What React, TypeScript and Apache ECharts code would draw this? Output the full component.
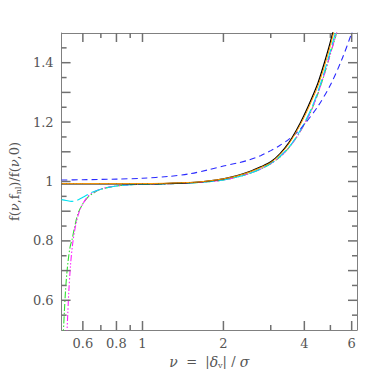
import React, { useEffect, useRef } from "react";
import * as echarts from "echarts";

const X_MIN = 0.5;
const X_MAX = 6.28;
const Y_MIN = 0.5;
const Y_MAX = 1.5;

const xMajorTicks = [0.6, 0.8, 1, 2, 4, 6];
const xMinorTicks = [0.7, 0.9, 3, 5];
const yMajorTicks = [0.6, 0.7, 0.8, 0.9, 1.0, 1.1, 1.2, 1.3, 1.4];
const yMinorTicks = [0.55, 0.65, 0.75, 0.85, 0.95, 1.05, 1.15, 1.25, 1.35, 1.45];
const yLabelTicks = [0.6, 0.8, 1, 1.2, 1.4];

const blackNu = [0.5, 0.6, 0.8, 1, 1.2, 1.4, 1.6, 1.8, 2, 2.25, 2.5, 2.75, 3, 3.25, 3.5, 3.75, 4, 4.25, 4.5, 4.75, 5, 5.25, 5.5];
const blackF = [0.992, 0.992, 0.992, 0.992, 0.993, 0.995, 0.998, 1.003, 1.009, 1.02, 1.033, 1.049, 1.066, 1.094, 1.13, 1.175, 1.225, 1.278, 1.333, 1.4, 1.47, 1.55, 1.64];

const orangeNu = [0.5, 0.6, 0.8, 1, 1.2, 1.4, 1.6, 1.8, 2, 2.25, 2.5, 2.75, 3, 3.25, 3.5, 3.75, 4, 4.25, 4.5, 4.75, 5, 5.25, 5.5];
const orangeF = [0.993, 0.993, 0.993, 0.993, 0.994, 0.996, 0.998, 1.003, 1.009, 1.019, 1.032, 1.047, 1.064, 1.091, 1.126, 1.17, 1.218, 1.27, 1.323, 1.388, 1.458, 1.535, 1.62];

const blueNu = [0.5, 0.6, 0.8, 1, 1.25, 1.5, 1.75, 2, 2.25, 2.5, 2.75, 3, 3.25, 3.5, 3.75, 4, 4.5, 5, 5.5, 6, 6.3];
const blueF = [1.005, 1.006, 1.008, 1.011, 1.017, 1.026, 1.039, 1.052, 1.062, 1.073, 1.087, 1.104, 1.122, 1.142, 1.165, 1.192, 1.254, 1.325, 1.408, 1.5, 1.56];

const cyanNu = [0.5, 0.52, 0.545, 0.57, 0.6, 0.646, 0.7, 0.8, 1, 1.2, 1.5, 1.75, 2, 2.25, 2.5, 2.75, 3, 3.25, 3.5, 3.75, 4, 4.25, 4.5, 4.75, 5, 5.25, 5.5];
const cyanF = [0.939, 0.936, 0.933, 0.936, 0.947, 0.963, 0.974, 0.985, 0.991, 0.992, 0.995, 0.999, 1.005, 1.015, 1.027, 1.042, 1.061, 1.085, 1.115, 1.153, 1.197, 1.246, 1.305, 1.37, 1.44, 1.51, 1.59];

const greenNu = [0.507, 0.512, 0.517, 0.523, 0.53, 0.538, 0.548, 0.56, 0.577, 0.6, 0.628, 0.66, 0.7, 0.8, 1, 1.2, 1.5, 1.75, 2, 2.25, 2.5, 2.75, 3, 3.25, 3.5, 3.75, 4, 4.25, 4.5, 4.75, 5, 5.25, 5.5];
const greenF = [0.48, 0.56, 0.63, 0.69, 0.74, 0.78, 0.808, 0.85, 0.895, 0.925, 0.948, 0.962, 0.974, 0.985, 0.991, 0.992, 0.995, 0.999, 1.005, 1.015, 1.027, 1.042, 1.06, 1.083, 1.113, 1.15, 1.193, 1.24, 1.298, 1.362, 1.43, 1.495, 1.57];

const magentaNu = [0.523, 0.527, 0.532, 0.54, 0.548, 0.558, 0.57, 0.585, 0.6, 0.62, 0.646, 0.7, 0.8, 1, 1.2, 1.5, 1.75, 2, 2.25, 2.5, 2.75, 3, 3.25, 3.5, 3.75, 4, 4.25, 4.5, 4.75, 5, 5.25, 5.5];
const magentaF = [0.48, 0.55, 0.63, 0.72, 0.78, 0.83, 0.87, 0.905, 0.925, 0.945, 0.96, 0.975, 0.985, 0.991, 0.992, 0.995, 0.999, 1.005, 1.015, 1.027, 1.042, 1.06, 1.083, 1.113, 1.15, 1.193, 1.24, 1.298, 1.362, 1.43, 1.495, 1.57];

const L = (v: number) => Math.log10(v);
const toData = (nu: number[], f: number[]) => nu.map((n, i) => [L(n), f[i]]);

const AXIS_COLOR = "#808080";
const TICK_COLOR = "#707070";
const TEXT_COLOR = "#555";
const FONT = "DejaVu Serif";
const MAJOR_LEN = 9;
const MINOR_LEN = 5;

export default function App() {
  const ref = useRef<HTMLDivElement>(null);
  useEffect(() => {
    if (!ref.current) return;
    const chart = echarts.init(ref.current, null, { renderer: "svg" });
    const fmtX = (v: number) => String(Math.round(Math.pow(10, v) * 10) / 10);
    const fmtY = (v: number) => String(Math.round(v * 10) / 10);
    const labelStyle = { fontFamily: FONT, fontSize: 13, color: TEXT_COLOR };

    const mkX = (pos: "bottom" | "top", labels: boolean) => ({
      type: "value" as const,
      min: L(X_MIN),
      max: L(X_MAX),
      position: pos,
      splitLine: { show: false },
      axisLine: { show: true, onZero: false, lineStyle: { color: AXIS_COLOR, width: 1 } },
      axisTick: { show: false },
      axisLabel: labels
        ? { show: true, customValues: xMajorTicks.map(L), formatter: fmtX, margin: 7, ...labelStyle }
        : { show: false },
    });
    const xName = {
      name: "{g|ν}  =  |{g|δ}{sub|v}| / {g|σ}",
      nameLocation: "middle" as const,
      nameGap: 24,
      nameTextStyle: {
        fontFamily: FONT,
        fontSize: 13,
        color: TEXT_COLOR,
        rich: {
          g: { fontFamily: FONT, fontSize: 14, fontStyle: "italic", color: TEXT_COLOR },
          sub: { fontFamily: FONT, fontSize: 8, color: TEXT_COLOR, padding: [7, 0, 0, 0] },
        },
      },
    };
    const mkY = (pos: "left" | "right", labels: boolean) => ({
      type: "value" as const,
      min: Y_MIN,
      max: Y_MAX,
      interval: 0.1,
      position: pos,
      splitLine: { show: false },
      axisLine: { show: true, onZero: false, lineStyle: { color: AXIS_COLOR, width: 1 } },
      axisTick: { show: false },
      axisLabel: labels
        ? { show: true, customValues: yLabelTicks, formatter: fmtY, margin: 8, ...labelStyle }
        : { show: false },
    });
    const yName = {
      name: "f({g|ν},f{sub|nl})/f({g|ν},0)",
      nameLocation: "middle" as const,
      nameGap: 37,
      nameRotate: 90,
      nameTextStyle: {
        fontFamily: FONT,
        fontSize: 13,
        color: TEXT_COLOR,
        rich: {
          g: { fontFamily: FONT, fontSize: 13, fontStyle: "italic", color: TEXT_COLOR },
          sub: { fontFamily: FONT, fontSize: 8, color: TEXT_COLOR, padding: [7, 0, 0, 0] },
        },
      },
    };
    const line = (name: string, nu: number[], f: number[], color: string, type: any, width: number) => ({
      name,
      type: "line" as const,
      xAxisIndex: 0,
      yAxisIndex: 0,
      data: toData(nu, f),
      showSymbol: false,
      smooth: 0.3,
      clip: true,
      lineStyle: { color, type, width },
      silent: true,
    });

    chart.setOption({
      animation: false,
      backgroundColor: "#fff",
      grid: { left: 60, right: 33, top: 33, bottom: 60, containLabel: false },
      xAxis: [{ ...mkX("bottom", true), ...xName }, mkX("top", false)],
      yAxis: [{ ...mkY("left", true), ...yName }, mkY("right", false)],
      series: [
        line("green", greenNu, greenF, "#33dd33", [7, 2, 1.5, 2], 1.1),
        line("magenta", magentaNu, magentaF, "#ff22ff", [6, 2, 1.5, 2, 1.5, 2], 1.1),
        line("cyan", cyanNu, cyanF, "#00e0f0", [12, 4], 1.1),
        line("blue", blueNu, blueF, "#2a2aff", [6, 4], 1.1),
        line("black", blackNu, blackF, "#000", "solid", 1.3),
        line("orange", orangeNu, orangeF, "#ff9900", "solid", 1),
      ],
    });

    // Tick marks on all four sides, positioned through the chart's own scales.
    const tickStyle = { stroke: TICK_COLOR, lineWidth: 1.5 };
    const els: any[] = [];
    const px = (p: number[]) => chart.convertToPixel({ xAxisIndex: 0, yAxisIndex: 0 }, p) as number[];
    const addX = (vals: number[], len: number) => {
      vals.forEach((v) => {
        const b = px([L(v), Y_MIN]);
        const t = px([L(v), Y_MAX]);
        els.push({ type: "line", silent: true, z: 100, shape: { x1: b[0], y1: b[1], x2: b[0], y2: b[1] - len }, style: tickStyle });
        els.push({ type: "line", silent: true, z: 100, shape: { x1: t[0], y1: t[1], x2: t[0], y2: t[1] + len }, style: tickStyle });
      });
    };
    const addY = (vals: number[], len: number) => {
      vals.forEach((v) => {
        const l = px([L(X_MIN), v]);
        const r = px([L(X_MAX), v]);
        els.push({ type: "line", silent: true, z: 100, shape: { x1: l[0], y1: l[1], x2: l[0] + len, y2: l[1] }, style: tickStyle });
        els.push({ type: "line", silent: true, z: 100, shape: { x1: r[0], y1: r[1], x2: r[0] - len, y2: r[1] }, style: tickStyle });
      });
    };
    addX(xMajorTicks, MAJOR_LEN);
    addX(xMinorTicks, MINOR_LEN);
    addY(yMajorTicks, MAJOR_LEN);
    addY(yMinorTicks, MINOR_LEN);
    chart.setOption({ graphic: { elements: els } });

    return () => chart.dispose();
  }, []);
  return (
    <div
      ref={ref}
      style={{ position: "absolute", left: 0, top: 0, width: 390, height: 390, background: "#fff" }}
    />
  );
}
